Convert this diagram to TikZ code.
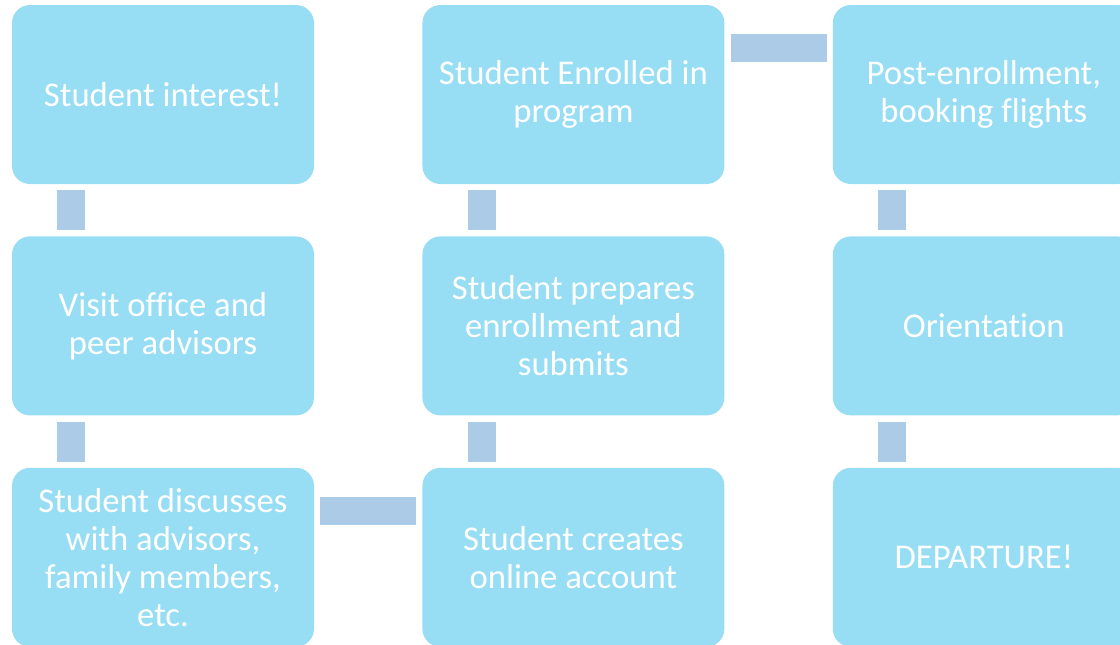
\documentclass[tikz,border=0pt]{standalone}
\usepackage{fontspec}
\setmainfont[Ligatures=NoCommon]{Carlito}
\usetikzlibrary{positioning}
\definecolor{stagefill}{HTML}{97DDF4}
\definecolor{linkfill}{HTML}{ABCBE6}

\begin{document}
\begin{tikzpicture}[x=1pt,y=-1pt,
    stage/.style={rectangle,rounded corners=18pt,fill=stagefill,text=white,
      minimum width=302pt,minimum height=179pt,align=center,inner sep=0pt,
      font=\fontsize{34.7}{38}\selectfont},
    link/.style={draw=linkfill,line width=28pt,shorten <=6pt,shorten >=6pt}]
    \useasboundingbox (0,0) rectangle (1120,645);
    \clip (0,0) rectangle (1120,645);
    \node [stage] (interest) at (163,94.5) {Student interest!};
    \node [stage,below=52pt of interest] (visit) {Visit office and\\peer advisors};
    \node [stage,below=52pt of visit] (discuss) {Student discusses\\with advisors,\\family members,\\etc.};
    \node [stage,right=108pt of discuss] (account) {Student creates\\online account};
    \node [stage,above=52pt of account] (prepare) {Student prepares\\enrollment and\\submits};
    \node [stage,above=52pt of prepare] (enrolled) {Student Enrolled in\\program};
    \node [stage,right=108pt of enrolled] (post) {Post-enrollment,\\booking flights};
    \node [stage,below=52pt of post] (orient) {Orientation};
    \node [stage,below=52pt of orient] (depart) {DEPARTURE!};
    % connectors
    \draw [link] ([xshift=59.5pt]interest.south west) -- ([xshift=59.5pt]visit.north west);
    \draw [link] ([xshift=59.5pt]visit.south west) -- ([xshift=59.5pt]discuss.north west);
    \draw [link] ([yshift=-43pt]discuss.north east) -- ([yshift=-43pt]account.north west);
    \draw [link] ([xshift=59.5pt]account.north west) -- ([xshift=59.5pt]prepare.south west);
    \draw [link] ([xshift=59.5pt]prepare.north west) -- ([xshift=59.5pt]enrolled.south west);
    \draw [link] ([yshift=-43pt]enrolled.north east) -- ([yshift=-43pt]post.north west);
    \draw [link] ([xshift=59.5pt]post.south west) -- ([xshift=59.5pt]orient.north west);
    \draw [link] ([xshift=59.5pt]orient.south west) -- ([xshift=59.5pt]depart.north west);
\end{tikzpicture}
\end{document}
